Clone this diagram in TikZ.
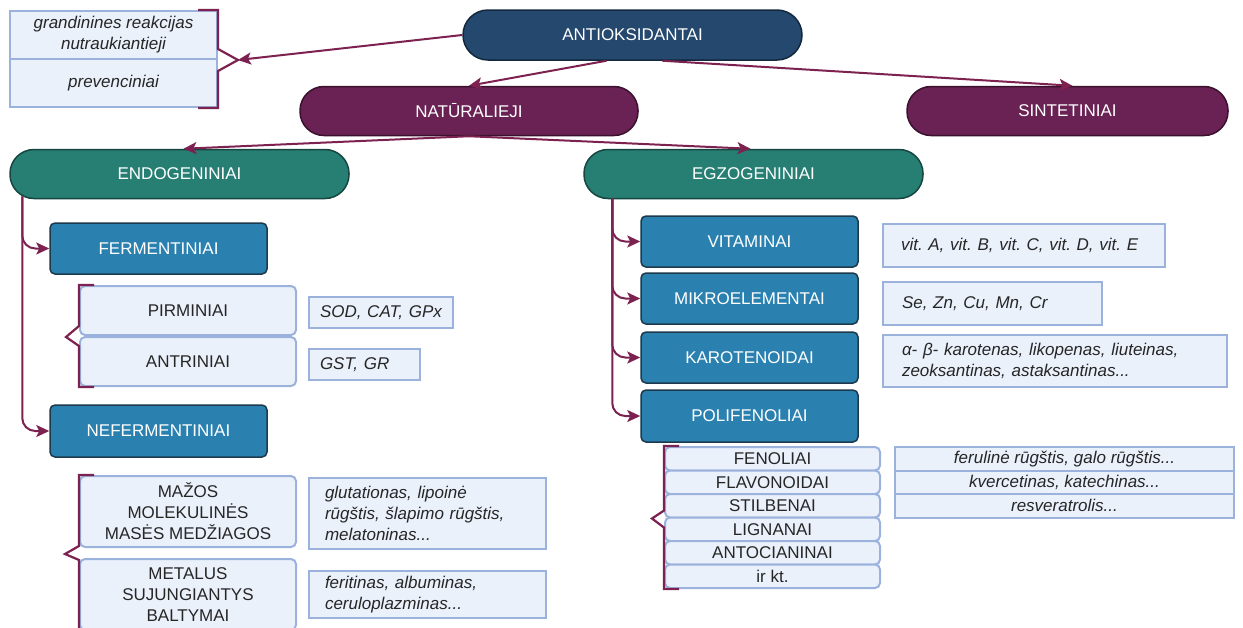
\documentclass[tikz,border=0pt]{standalone}
\usepackage{fontspec}
\setmainfont{Liberation Sans}
\usetikzlibrary{arrows.meta,positioning}
\definecolor{navyfill}{HTML}{25486F}
\definecolor{plumfill}{HTML}{6A2154}
\definecolor{tealfill}{HTML}{277F74}
\definecolor{steelfill}{HTML}{2A80AF}
\definecolor{darkline}{HTML}{1D3A4D}
\definecolor{paleblue}{HTML}{EBF1FB}
\definecolor{edgeblue}{HTML}{9BB2DD}
\definecolor{linkred}{HTML}{7D2250}
\definecolor{textgrey}{HTML}{262626}
\newcommand{\basefont}{\fontsize{17}{21}\selectfont\frenchspacing}

\begin{document}
\begin{tikzpicture}[x=1pt,y=-1pt,
  pill/.style={draw=#1!55!black, fill=#1, line width=1.5pt, rounded corners=24pt,
    minimum height=49pt, text=white, font=\basefont},
  groupbox/.style={draw=darkline, fill=steelfill, line width=1.5pt, rounded corners=5pt,
    minimum width=217pt, minimum height=51pt, text=white, font=\basefont},
  itembox/.style={draw=edgeblue, fill=paleblue, line width=2pt, rounded corners=5pt,
    minimum width=216pt, text=textgrey, align=center, font=\basefont, inner sep=0pt},
  notebox/.style={draw=edgeblue, fill=paleblue, line width=2pt, text=textgrey,
    align=left, font=\basefont\itshape, inner sep=0pt},
  link/.style={draw=linkred, line width=2pt, -{Stealth[length=13pt,width=12pt,inset=3pt]}},
  branch/.style={link, rounded corners=13pt},
  brace/.style={draw=linkred, line width=2.2pt}]
  \fill[white] (0,0) rectangle (1243,627);
  \useasboundingbox (0,0) rectangle (1243,627);

  % top levels
  \node[pill=navyfill, minimum width=339pt, minimum height=50pt, rounded corners=25pt] (antiox) at (632.5,35) {ANTIOKSIDANTAI};
  \node[pill=plumfill, minimum width=338pt] (natur) at (469,111) {NATŪRALIEJI};
  \node[pill=plumfill, minimum width=321pt] (sint) at (1067.5,111) {SINTETINIAI};
  \node[pill=tealfill, minimum width=339pt] (endo) at (179.5,174) {ENDOGENINIAI};
  \node[pill=tealfill, minimum width=339pt] (egzo) at (753.5,174) {EGZOGENINIAI};

  \node[notebox, align=center, minimum width=207pt, minimum height=48pt] (grand) at (113.5,35) {grandinines reakcijas\\nutraukiantieji};
  \node[notebox, align=center, minimum width=207pt, minimum height=48pt] (prev) at (113.5,83) {prevenciniai};

  % endogeniniai
  \node[groupbox] (ferm) at (158.5,248.5) {FERMENTINIAI};
  \node[itembox, minimum height=49pt] (pirm) at (188,310.5) {PIRMINIAI};
  \node[itembox, minimum height=49pt] (antr) at (188,361.5) {ANTRINIAI};
  \node[notebox, minimum width=144pt, minimum height=31pt, inner xsep=11pt, text width=122pt] (sod) at (381,312.5) {SOD, CAT, GPx};
  \node[notebox, minimum width=111pt, minimum height=31pt, inner xsep=11pt, text width=89pt] (gst) at (364.5,364.5) {GST, GR};

  \node[groupbox, minimum height=52pt] (neferm) at (158.5,431) {NEFERMENTINIAI};
  \node[itembox, minimum height=71pt] (mazos) at (188,511.5) {MAŽOS\\MOLEKULINĖS\\MASĖS MEDŽIAGOS};
  \node[itembox, minimum height=71pt] (metal) at (188,594.5) {METALUS\\SUJUNGIANTYS\\BALTYMAI};
  \node[notebox, minimum height=71pt, inner xsep=16pt, text width=205pt] (glut) at (427.5,513.5) {glutationas, lipoinė\\rūgštis, šlapimo rūgštis,\\melatoninas...};
  \node[notebox, minimum height=47pt, inner xsep=16pt, text width=205pt] (ferit) at (427.5,594.5) {feritinas, albuminas,\\ceruloplazminas...};

  % egzogeniniai
  \node[groupbox] (vit) at (749.5,241.5) {VITAMINAI};
  \node[groupbox] (mikro) at (749.5,298.5) {MIKROELEMENTAI};
  \node[groupbox] (karot) at (749.5,357.5) {KAROTENOIDAI};
  \node[groupbox, minimum height=52pt] (polif) at (749.5,416) {POLIFENOLIAI};
  \node[notebox, minimum height=43pt, inner xsep=18pt, text width=246pt] (vitn) at (1024,245.5) {vit. A, vit. B, vit. C, vit. D, vit. E};
  \node[notebox, minimum height=43pt, inner xsep=19pt, text width=181pt] (sen) at (992.5,303.5) {Se, Zn, Cu, Mn, Cr};
  \node[notebox, minimum height=52pt, inner xsep=19pt, text width=306pt] (karn) at (1055,361) {α- β- karotenas, likopenas, liuteinas,\\zeoksantinas, astaksantinas...};

  \foreach \name/\txt [count=\i] in {fenol/FENOLIAI, flav/FLAVONOIDAI, stilb/STILBENAI, lign/LIGNANAI, antoc/ANTOCIANINAI, irkt/ir kt.}
    \node[itembox, minimum width=215pt, minimum height=23.5pt] (\name) at (772.5,435.25+23.5*\i) {\txt};
  \foreach \name/\txt [count=\i] in {ferul/{ferulinė rūgštis, galo rūgštis...}, kverc/{kvercetinas, katechinas...}, resv/{resveratrolis...}}
    \node[notebox, align=center, minimum width=339pt, minimum height=23.5pt] (\name) at (1064.5,435.25+23.5*\i) {\txt};

  % connectors
  \draw[link] (antiox.west) -- ([xshift=20pt]grand.south east);
  \draw[link] ([xshift=-26pt]antiox.south) -- (natur.north);
  \draw[link] ([xshift=30pt]antiox.south) -- ([xshift=5pt]sint.north);
  \draw[link] (natur.south) -- ([xshift=4pt]endo.north);
  \draw[link] (natur.south) -- ([xshift=-3pt]egzo.north);
  \draw[branch] ([xshift=13pt,yshift=3pt]endo.south west) |- (ferm.west);
  \draw[branch] ([xshift=13pt,yshift=3pt]endo.south west) |- (neferm.west);
  \foreach \leaf in {vit,mikro,karot,polif}
    \draw[branch] ([xshift=29pt,yshift=1pt]egzo.south west) |- (\leaf.west);

  % brackets
  \draw[brace] ([xshift=-20pt]grand.north east) -- (grand.north east) -- ([yshift=11pt]grand.south east)
    -- ([xshift=20pt]grand.south east) -- ([yshift=-11pt]grand.south east) -- (prev.south east) -- ([xshift=-20pt]prev.south east);
  \draw[brace] ([xshift=15pt]pirm.north west) -- (pirm.north west) -- ([yshift=10pt]pirm.south west)
    -- ([xshift=-13pt,yshift=-1pt]pirm.south west) -- ([yshift=-10pt]antr.north west) -- (antr.south west) -- ([xshift=15pt]antr.south west);
  \draw[brace] ([xshift=15pt]mazos.north west) -- (mazos.north west) -- ([yshift=2pt]mazos.south west)
    -- ([xshift=-14pt,yshift=-6pt]mazos.south west) -- ([yshift=-2pt]metal.north west) -- (metal.south west) -- ([xshift=15pt]metal.south west);
  \draw[brace] ([xshift=15pt]fenol.north west) -- (fenol.north west) -- ([yshift=8pt]stilb.south west)
    -- ([xshift=-12pt]stilb.south west) -- ([yshift=-9pt]stilb.south west) -- (irkt.south west) -- ([xshift=15pt]irkt.south west);
\end{tikzpicture}
\end{document}
